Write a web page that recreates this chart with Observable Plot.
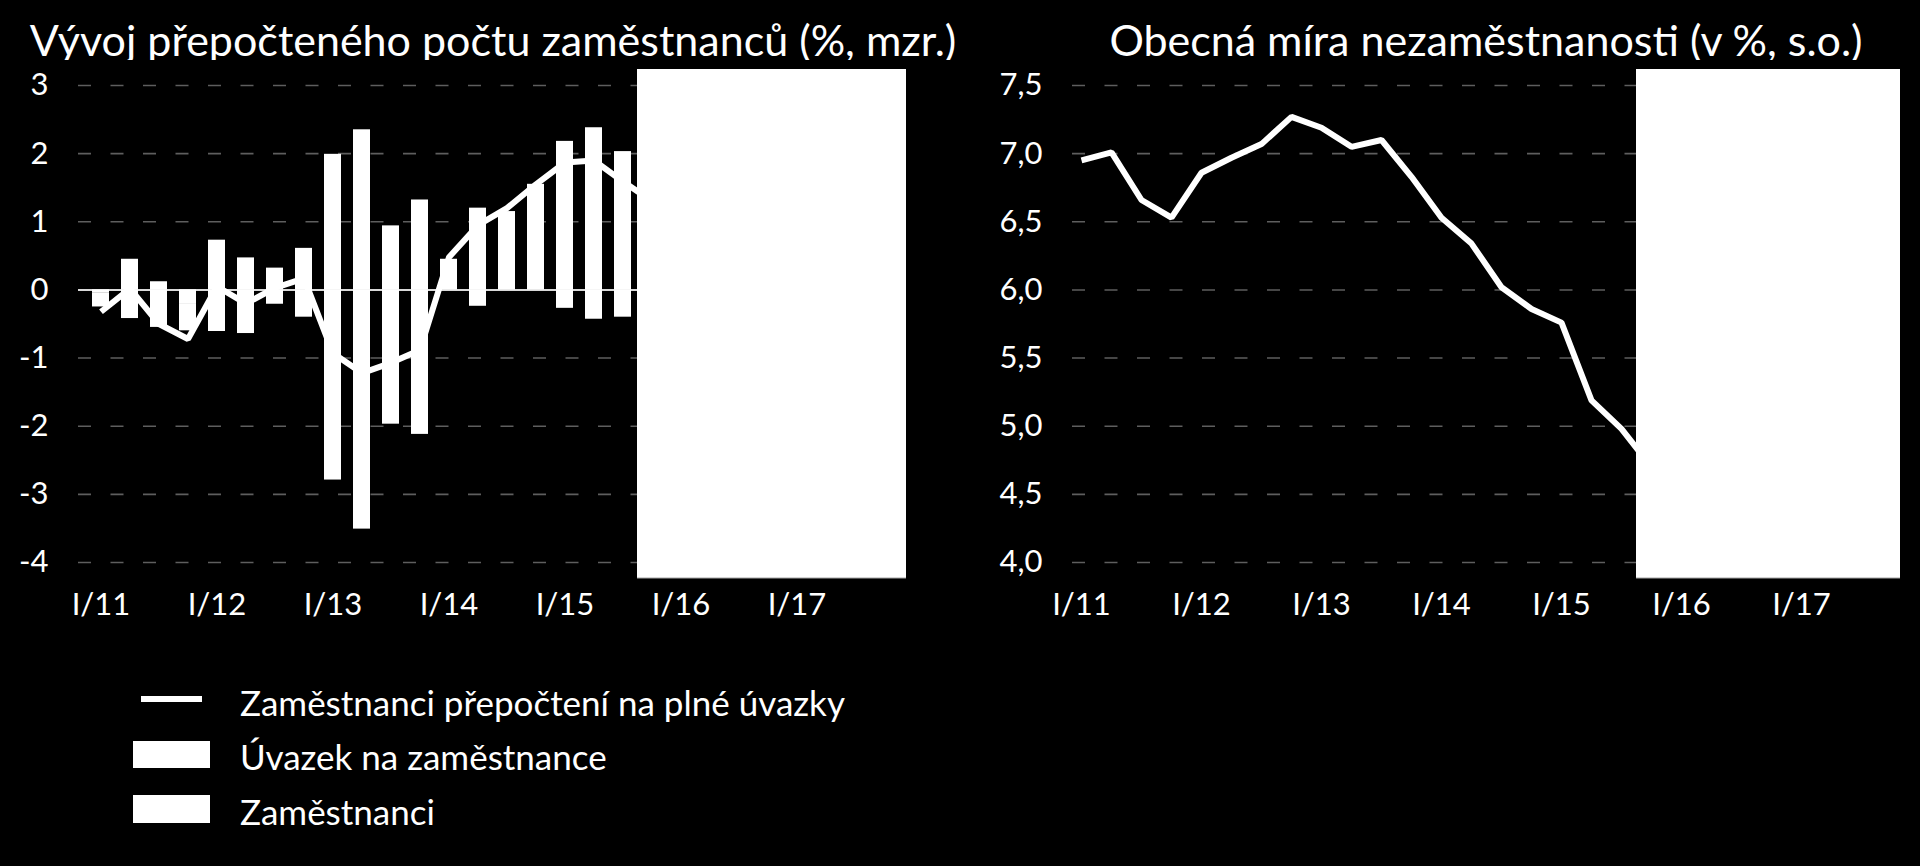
<!DOCTYPE html>
<html><head><meta charset="utf-8">
<script src="https://cdn.jsdelivr.net/npm/d3@7"></script>
<script src="https://cdn.jsdelivr.net/npm/@observablehq/plot@0.6"></script>
<style>
html,body{margin:0;padding:0;background:#000;}
body{width:1920px;height:866px;position:relative;overflow:hidden;font-family:Lato,sans-serif;color:#fff;}
.title{position:absolute;top:18px;font-size:43px;line-height:43px;text-align:center;white-space:nowrap;}
.chart{position:absolute;top:60px;}
.leg{position:absolute;font-size:35px;line-height:35px;white-space:nowrap;}
.sw{position:absolute;background:#fff;}
</style></head><body>
<div class="title" style="left:0;width:986px;">Vývoj přepočteného počtu zaměstnanců (%, mzr.)</div>
<div class="title" style="left:1040px;width:892px;">Obecná míra nezaměstnanosti (v %, s.o.)</div>
<div id="left" class="chart" style="left:0;"></div>
<div id="right" class="chart" style="left:960px;"></div>
<div class="sw" style="left:141px;top:696px;width:61px;height:6px;"></div>
<div class="leg" style="left:240px;top:685px;">Zaměstnanci přepočtení na plné úvazky</div>
<div class="sw" style="left:133px;top:741px;width:77px;height:27px;"></div>
<div class="leg" style="left:240px;top:739px;">Úvazek na zaměstnance</div>
<div class="sw" style="left:133px;top:795px;width:77px;height:28px;"></div>
<div class="leg" style="left:240px;top:794px;">Zaměstnanci</div>
<script>
// Categories: quarters 2011Q1 .. 2017Q4
const quarters = ["2011Q1","2011Q2","2011Q3","2011Q4","2012Q1","2012Q2","2012Q3","2012Q4",
  "2013Q1","2013Q2","2013Q3","2013Q4","2014Q1","2014Q2","2014Q3","2014Q4",
  "2015Q1","2015Q2","2015Q3","2015Q4","2016Q1","2016Q2","2016Q3","2016Q4",
  "2017Q1","2017Q2","2017Q3","2017Q4"];
const tickQuarters = ["2011Q1","2012Q1","2013Q1","2014Q1","2015Q1","2016Q1","2017Q1"];
const tickLabels = ["I/11","I/12","I/13","I/14","I/15","I/16","I/17"];
const forecastStart = "2015Q4";

// Left panel series (2011Q1 .. 2015Q4), % y/y
const fteEmployees = [-0.32, 0.02, -0.5, -0.72, 0.05, -0.2, 0.03, 0.17, -0.93, -1.22,
  -1.07, -0.88, 0.48, 0.95, 1.2, 1.55, 1.87, 1.9, 1.59, 1.3];
const employees = [-0.05, 0.45, 0.12, -0.2, 0.73, 0.47, 0.32, 0.61, 1.99, 2.35,
  0.94, 1.32, 0.45, 1.2, 1.15, 1.55, 2.18, 2.38, 2.03, 1.9];
const hoursPerEmployee = [-0.2, -0.42, -0.55, -0.4, -0.61, -0.64, -0.21, -0.4, -2.79, -3.51,
  -1.97, -2.12, 0.0, -0.24, 0.0, 0.0, -0.27, -0.43, -0.4, -0.6];
const leftYTicks = [-4, -3, -2, -1, 0, 1, 2, 3];

// Right panel: general unemployment rate (%, s.a.)
const unemployment = [6.95, 7.01, 6.66, 6.53, 6.86, 6.97, 7.07, 7.27, 7.19, 7.05,
  7.1, 6.83, 6.53, 6.34, 6.02, 5.86, 5.76, 5.19, 4.98, 4.7];
const rightYTicks = [4, 4.5, 5, 5.5, 6, 6.5, 7, 7.5];

const seriesNames = ["Zaměstnanci", "Úvazek na zaměstnance"];

const barRows = [];
employees.forEach((v, i) => {
  barRows.push({q: quarters[i], s: seriesNames[0], v});
  barRows.push({q: quarters[i], s: seriesNames[1], v: hoursPerEmployee[i]});
});
const lineRows = fteEmployees.map((v, i) => ({q: quarters[i], v}));
const unempRows = unemployment.map((v, i) => ({q: quarters[i], v}));
const labelOf = new Map(tickQuarters.map((q, i) => [q, tickLabels[i]]));

const gridStyle = {stroke: "#5e5e5e", strokeOpacity: 1, strokeWidth: 1.6, strokeDasharray: "13,19.5"};
const baseStyle = {background: "#000", color: "#fff", fontFamily: "Lato, sans-serif", fontSize: "31px", overflow: "visible"};

function forecastMark(kind) {
  return (index, scales, values, dims) => {
    const x = scales.x;
    const i = quarters.indexOf(forecastStart);
    const a = x(quarters[i - 1]), b = x(forecastStart);
    let x0;
    if (kind === "band") {
      const bw = x.bandwidth ? x.bandwidth() : 0;
      x0 = b - (b - a - bw) / 2;
    } else {
      x0 = (a + b) / 2;
    }
    const x1 = dims.width - dims.marginRight;
    const y0 = dims.marginTop - 16;
    const y1 = dims.height - dims.marginBottom + 16;
    const g = d3.create("svg:g");
    g.append("rect").attr("x", x0).attr("y", y0).attr("width", x1 - x0).attr("height", y1 - y0).attr("fill", "#fff");
    g.append("line").attr("x1", x0).attr("x2", x1).attr("y1", y1).attr("y2", y1).attr("stroke", "#a6a6a6").attr("stroke-width", 1.2);
    return g.node();
  };
}

const left = Plot.plot({
  width: 960, height: 600,
  marginLeft: 78, marginRight: 54, marginTop: 25, marginBottom: 98,
  style: baseStyle,
  x: {type: "band", domain: quarters, paddingInner: 0.42, paddingOuter: 0.21, axis: null},
  y: {domain: [-4, 3], axis: null},
  marks: [
    Plot.gridY(leftYTicks, gridStyle),
    Plot.ruleY([0], {stroke: "#d9d9d9", strokeWidth: 2}),
    Plot.barY(barRows, {x: "q", y: "v", z: "s", fill: "#fff"}),
    Plot.line(lineRows, {x: "q", y: "v", stroke: "#fff", strokeWidth: 6, strokeLinejoin: "miter", strokeLinecap: "butt"}),
    forecastMark("band"),
    Plot.axisY(leftYTicks, {label: null, tickSize: 0, tickPadding: 30, tickFormat: d => String(d), fill: "#fff"}),
    Plot.axisX(tickQuarters, {label: null, tickSize: 0, tickPadding: 30, tickFormat: d => labelOf.get(d), fill: "#fff"})
  ]
});
document.getElementById("left").append(left);

const right = Plot.plot({
  width: 960, height: 600,
  marginLeft: 112, marginRight: 20, marginTop: 25, marginBottom: 98,
  style: baseStyle,
  x: {type: "point", domain: quarters, padding: 0, axis: null},
  y: {domain: [4, 7.5], axis: null},
  marks: [
    Plot.gridY(rightYTicks, gridStyle),
    Plot.line(unempRows, {x: "q", y: "v", stroke: "#fff", strokeWidth: 6, strokeLinejoin: "miter", strokeLinecap: "butt"}),
    forecastMark("point"),
    Plot.axisY(rightYTicks, {label: null, tickSize: 0, tickPadding: 30, tickFormat: d => d.toFixed(1).replace(".", ","), fill: "#fff"}),
    Plot.axisX(tickQuarters, {label: null, tickSize: 0, tickPadding: 30, tickFormat: d => labelOf.get(d), fill: "#fff"})
  ]
});
document.getElementById("right").append(right);
</script>
</body></html>
